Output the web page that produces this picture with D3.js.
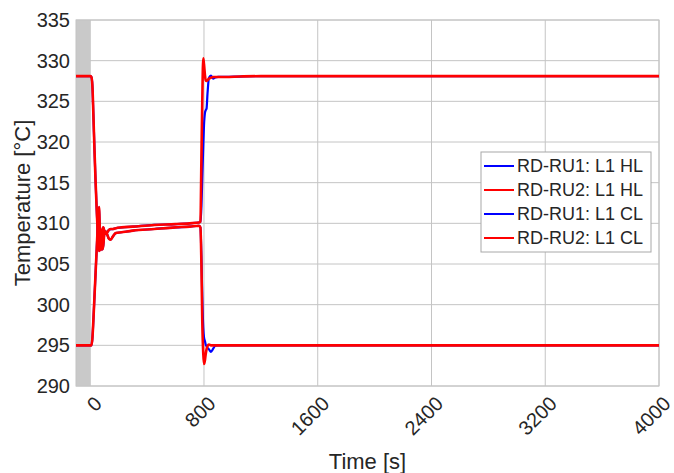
<!DOCTYPE html>
<html>
<head>
<meta charset="utf-8">
<script src="https://cdn.jsdelivr.net/npm/d3@7"></script>
<style>
  body { margin: 0; background: #fff; }
  text { font-family: "Liberation Sans", Arial, sans-serif; fill: #262626; }
</style>
</head>
<body>
<script>
// time axis [s]
var times = [-100, 0, 8, 15, 22, 30, 38, 46, 54, 62, 68, 74, 80, 86, 92, 100, 110, 120, 132, 144,
             160, 180, 220, 300, 450, 600, 700, 765, 775, 782, 788, 795, 800, 807, 812, 818, 825,
             835, 849, 865, 880, 900, 950, 1050, 1200, 1500, 4000];

// hot leg temperatures [°C]
var hlRu1 = [328.1, 328.1, 328.0, 327.0, 323.5, 319.0, 315.0, 311.5, 308.5, 306.6, 307.2, 309.2, 308.0, 306.8, 307.3,
             308.8, 309.0, 308.6, 308.1, 308.0, 308.4, 308.8, 308.9, 309.1, 309.3, 309.5, 309.6, 309.7, 309.5,
             306.0, 301.0, 297.2, 296.0, 295.5, 295.1, 294.9, 294.7, 294.5, 294.2, 294.6, 294.95, 295.0, 295.0,
             295.0, 295.0, 295.0, 295.0];
var hlRu2 = [328.1, 328.1, 328.0, 327.0, 323.5, 319.0, 315.0, 311.5, 308.5, 306.6, 307.2, 309.2, 308.0, 306.8, 307.3,
             308.8, 309.0, 308.6, 308.1, 308.0, 308.4, 308.8, 308.9, 309.1, 309.3, 309.5, 309.6, 309.7, 309.5,
             305.0, 298.0, 294.0, 292.7, 293.2, 293.9, 294.5, 294.9, 295.1, 295.0, 295.0, 295.0, 295.0, 295.0,
             295.0, 295.0, 295.0, 295.0];

// cold leg temperatures [°C]
var clRu1 = [295.0, 295.0, 295.0, 295.8, 298.0, 301.0, 304.0, 307.0, 310.0, 312.0, 309.0, 306.7, 307.6, 309.2, 309.5,
             309.0, 308.7, 308.9, 309.2, 309.3, 309.3, 309.4, 309.5, 309.6, 309.8, 309.9, 310.0, 310.1, 310.2,
             312.0, 315.5, 319.5, 322.0, 323.6, 323.9, 324.1, 326.0, 327.9, 328.15, 327.8, 327.95, 328.0, 328.0,
             328.05, 328.1, 328.1, 328.1];
var clRu2 = [295.0, 295.0, 295.0, 295.8, 298.0, 301.0, 304.0, 307.0, 310.0, 312.0, 309.0, 306.7, 307.6, 309.2, 309.5,
             309.0, 308.7, 308.9, 309.2, 309.3, 309.3, 309.4, 309.5, 309.6, 309.8, 309.9, 310.0, 310.1, 310.2,
             318.0, 325.0, 330.3, 329.6, 328.2, 327.6, 327.5, 327.6, 327.8, 327.9, 328.0, 328.0, 328.0, 328.0,
             328.05, 328.1, 328.1, 328.1];

var seriesNames = ["RD-RU1: L1 HL", "RD-RU2: L1 HL", "RD-RU1: L1 CL", "RD-RU2: L1 CL"];
var seriesColors = ["#0000ff", "#ff0000", "#0000ff", "#ff0000"];
var xTicks = [0, 800, 1600, 2400, 3200, 4000];
var yTicks = [290, 295, 300, 305, 310, 315, 320, 325, 330, 335];
var shadeRange = [-100, 0];

var width = 674, height = 473;
var margin = {top: 20, right: 15, bottom: 87, left: 76};

var svg = d3.select("body").append("svg")
    .attr("width", width)
    .attr("height", height);

var x = d3.scaleLinear().domain([-100, 4000]).range([margin.left, width - margin.right]);
var y = d3.scaleLinear().domain([290, 335]).range([height - margin.bottom, margin.top]);

// grid
svg.append("g").selectAll("line.gx")
    .data(xTicks).enter().append("line")
    .attr("x1", d => x(d)).attr("x2", d => x(d))
    .attr("y1", y(290)).attr("y2", y(335))
    .style("stroke", "#c4c4c4").style("stroke-width", 1);

svg.append("g").selectAll("line.gy")
    .data(yTicks).enter().append("line")
    .attr("x1", x(-100)).attr("x2", x(4000))
    .attr("y1", d => y(d)).attr("y2", d => y(d))
    .style("stroke", "#c4c4c4").style("stroke-width", 1);

// shaded start-up band
svg.append("rect")
    .attr("x", x(shadeRange[0]))
    .attr("y", y(335))
    .attr("width", x(shadeRange[1]) - x(shadeRange[0]))
    .attr("height", y(290) - y(335))
    .style("fill", "#c9c9c9");

// plot box
svg.append("rect")
    .attr("x", x(-100)).attr("y", y(335))
    .attr("width", x(4000) - x(-100))
    .attr("height", y(290) - y(335))
    .style("fill", "none")
    .style("stroke", "#c4c4c4")
    .style("stroke-width", 1);

svg.append("clipPath").attr("id", "clip")
    .append("rect")
    .attr("x", x(-100)).attr("y", y(335))
    .attr("width", x(4000) - x(-100))
    .attr("height", y(290) - y(335));

var allSeries = [hlRu1, hlRu2, clRu1, clRu2];

var line = d3.line()
    .x((d, i) => x(times[i]))
    .y(d => y(d))
    .curve(d3.curveMonotoneX);

// blue first, red on top (red a touch wider so the identical blue parts do not show)
var drawOrder = [0, 2, 1, 3];
svg.append("g").attr("clip-path", "url(#clip)")
    .selectAll("path")
    .data(drawOrder).enter().append("path")
    .attr("d", k => line(allSeries[k]))
    .style("fill", "none")
    .style("stroke", k => seriesColors[k])
    .style("stroke-width", k => k % 2 ? 2.6 : 2.2)
    .style("stroke-linejoin", "round");

// y tick labels
svg.append("g").selectAll("text")
    .data(yTicks).enter().append("text")
    .attr("x", x(-100) - 6)
    .attr("y", d => y(d))
    .attr("dy", "0.35em")
    .attr("text-anchor", "end")
    .style("font-size", "20px")
    .text(d => d);

// x tick labels, rotated
svg.append("g").selectAll("text")
    .data(xTicks).enter().append("text")
    .attr("transform", d => "translate(" + (x(d) + 8) + "," + (y(290) + 14) + ") rotate(-45)")
    .attr("text-anchor", "end")
    .attr("dy", "0.35em")
    .style("font-size", "20px")
    .text(d => d);

// axis titles
svg.append("text")
    .attr("x", (x(-100) + x(4000)) / 2)
    .attr("y", 469)
    .attr("text-anchor", "middle")
    .style("font-size", "22px")
    .text("Time [s]");

svg.append("text")
    .attr("transform", "translate(30," + (y(290) + y(335)) / 2 + ") rotate(-90)")
    .attr("text-anchor", "middle")
    .style("font-size", "22px")
    .text("Temperature [°C]");

// legend
var lg = svg.append("g").attr("transform", "translate(481,152)");
lg.append("rect")
    .attr("width", 170).attr("height", 100)
    .style("fill", "#fff")
    .style("stroke", "#a8a8a8")
    .style("stroke-width", 1);

var rows = lg.selectAll("g.row")
    .data(seriesNames).enter().append("g")
    .attr("transform", (d, i) => "translate(0," + (14 + i * 24) + ")");

rows.append("line")
    .attr("x1", 3).attr("x2", 33)
    .attr("y1", 0).attr("y2", 0)
    .style("stroke", (d, i) => seriesColors[i])
    .style("stroke-width", 2);

rows.append("text")
    .attr("x", 36)
    .attr("dy", "0.35em")
    .style("font-size", "18px")
    .text(d => d);
</script>
</body>
</html>
